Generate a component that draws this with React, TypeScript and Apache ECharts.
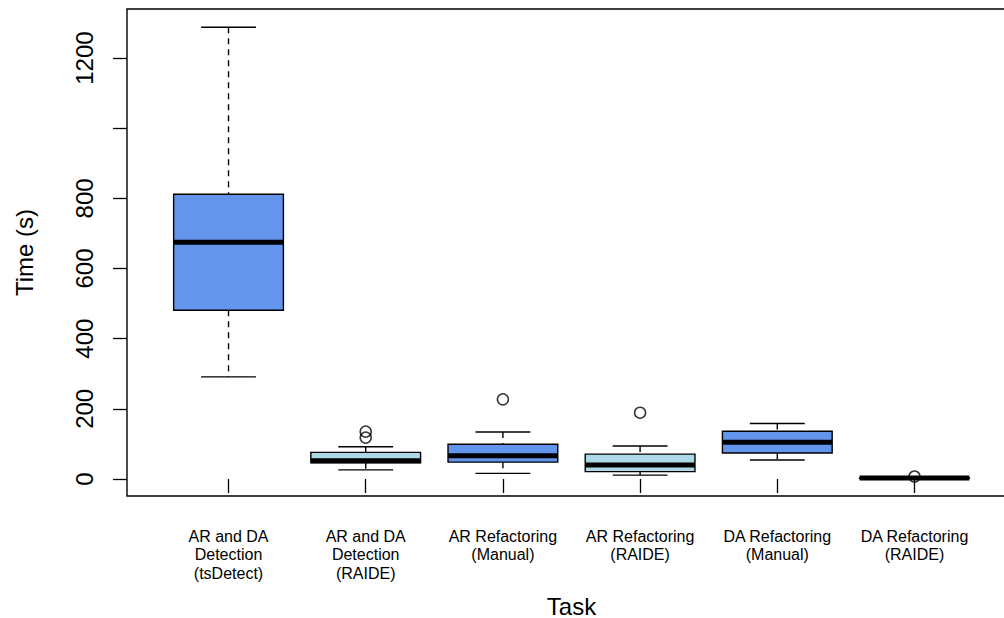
import React, { useEffect, useRef } from "react";
import * as echarts from "echarts";

const categories = [
  "AR and DA\nDetection\n(tsDetect)",
  "AR and DA\nDetection\n(RAIDE)",
  "AR Refactoring\n(Manual)",
  "AR Refactoring\n(RAIDE)",
  "DA Refactoring\n(Manual)",
  "DA Refactoring\n(RAIDE)",
];
const lowerWhisker = [291, 26, 16, 11, 54, 1];
const q1 = [481, 46, 48, 21, 74, 2];
const median = [675, 52, 66, 40, 105, 2.5];
const q3 = [812, 76, 99, 71, 136, 3];
const upperWhisker = [1288, 92, 134, 94, 158, 4];
const outlierTask = [2, 2, 3, 4, 6];
const outlierValue = [135, 118, 227, 189, 7];
const yTicks = [0, 200, 400, 600, 800, 1000, 1200];
const yLabels = [0, 200, 400, 600, 800, 1200];
const boxColors = ["#6495ED", "#ADD8E6", "#6495ED", "#ADD8E6", "#6495ED", "#ADD8E6"];

const FONT = "Liberation Sans, Arial, sans-serif";

export default function App() {
  const ref = useRef<HTMLDivElement>(null);
  useEffect(() => {
    if (!ref.current) return;
    const chart = echarts.init(ref.current, null, { renderer: "svg" });
    const boxData = categories.map((_, i) => [
      i + 1,
      lowerWhisker[i],
      q1[i],
      median[i],
      q3[i],
      upperWhisker[i],
    ]);
    const outData = outlierTask.map((t, i) => [t, outlierValue[i]]);
    const taskPositions = categories.map((_, i) => i + 1);

    chart.setOption({
      animation: false,
      backgroundColor: "#ffffff",
      textStyle: { fontFamily: FONT, color: "#000" },
      grid: {
        show: true,
        left: 127,
        top: 9,
        width: 889,
        height: 487,
        outerBoundsMode: "none",
        containLabel: false,
        borderColor: "#000",
        borderWidth: 1.4,
        backgroundColor: "transparent",
      },
      xAxis: {
        type: "value",
        min: 0.26,
        max: 6.74,
        name: "Task",
        nameLocation: "middle",
        nameGap: 98,
        nameTextStyle: { fontSize: 24, color: "#000", fontFamily: FONT },
        axisLine: { show: false },
        splitLine: { show: false },
        axisTick: {
          show: true,
          length: 14,
          customValues: taskPositions,
          lineStyle: { color: "#000", width: 1.3 },
        },
        axisLabel: {
          customValues: taskPositions,
          margin: 31,
          fontSize: 16,
          lineHeight: 18.5,
          color: "#000",
          fontFamily: FONT,
          formatter: (v: number) => categories[Math.round(v) - 1] ?? "",
        },
      },
      yAxis: {
        type: "value",
        min: -48.5,
        max: 1340,
        name: "Time (s)",
        nameLocation: "middle",
        nameGap: 91,
        nameRotate: 90,
        nameTextStyle: { fontSize: 24, color: "#000", fontFamily: FONT },
        axisLine: { show: false },
        splitLine: { show: false },
        axisTick: {
          show: true,
          length: 14,
          customValues: yTicks,
          lineStyle: { color: "#000", width: 1.3 },
        },
        axisLabel: {
          customValues: yLabels,
          rotate: 90,
          margin: 31,
          fontSize: 24,
          color: "#000",
          fontFamily: FONT,
          formatter: (v: number) => String(v),
        },
      },
      series: [
        {
          type: "custom",
          data: boxData,
          encode: { x: 0, y: [1, 2, 3, 4, 5] },
          renderItem: (params: any, api: any) => {
            const x = api.value(0);
            const pLow = api.coord([x, api.value(1)]);
            const pQ1 = api.coord([x, api.value(2)]);
            const pMed = api.coord([x, api.value(3)]);
            const pQ3 = api.coord([x, api.value(4)]);
            const pHigh = api.coord([x, api.value(5)]);
            const cx = pMed[0];
            const halfW = api.size([0.8, 0])[0] / 2;
            const stapleHalf = halfW / 2;
            const stroke = { stroke: "#000", lineWidth: 1.4, fill: "none" };
            const dashed = { ...stroke, lineDash: [6, 5] };
            return {
              type: "group",
              children: [
                { type: "line", shape: { x1: cx, y1: pHigh[1], x2: cx, y2: pQ3[1] }, style: dashed },
                { type: "line", shape: { x1: cx, y1: pQ1[1], x2: cx, y2: pLow[1] }, style: dashed },
                { type: "line", shape: { x1: cx - stapleHalf, y1: pHigh[1], x2: cx + stapleHalf, y2: pHigh[1] }, style: stroke },
                { type: "line", shape: { x1: cx - stapleHalf, y1: pLow[1], x2: cx + stapleHalf, y2: pLow[1] }, style: stroke },
                {
                  type: "rect",
                  shape: { x: cx - halfW, y: pQ3[1], width: halfW * 2, height: pQ1[1] - pQ3[1] },
                  style: { fill: boxColors[params.dataIndex], stroke: "#000", lineWidth: 1.4 },
                },
                { type: "line", shape: { x1: cx - halfW, y1: pMed[1], x2: cx + halfW, y2: pMed[1] }, style: { stroke: "#000", lineWidth: 5 } },
              ],
            };
          },
        },
        {
          type: "scatter",
          data: outData,
          symbol: "circle",
          symbolSize: 11,
          itemStyle: { color: "rgba(0,0,0,0)", borderColor: "#000", borderWidth: 1.5 },
          z: 3,
        },
      ],
    });
    return () => chart.dispose();
  }, []);
  return (
    <div
      ref={ref}
      style={{ position: "fixed", left: 0, top: 0, width: 1004, height: 618, background: "#fff" }}
    />
  );
}
